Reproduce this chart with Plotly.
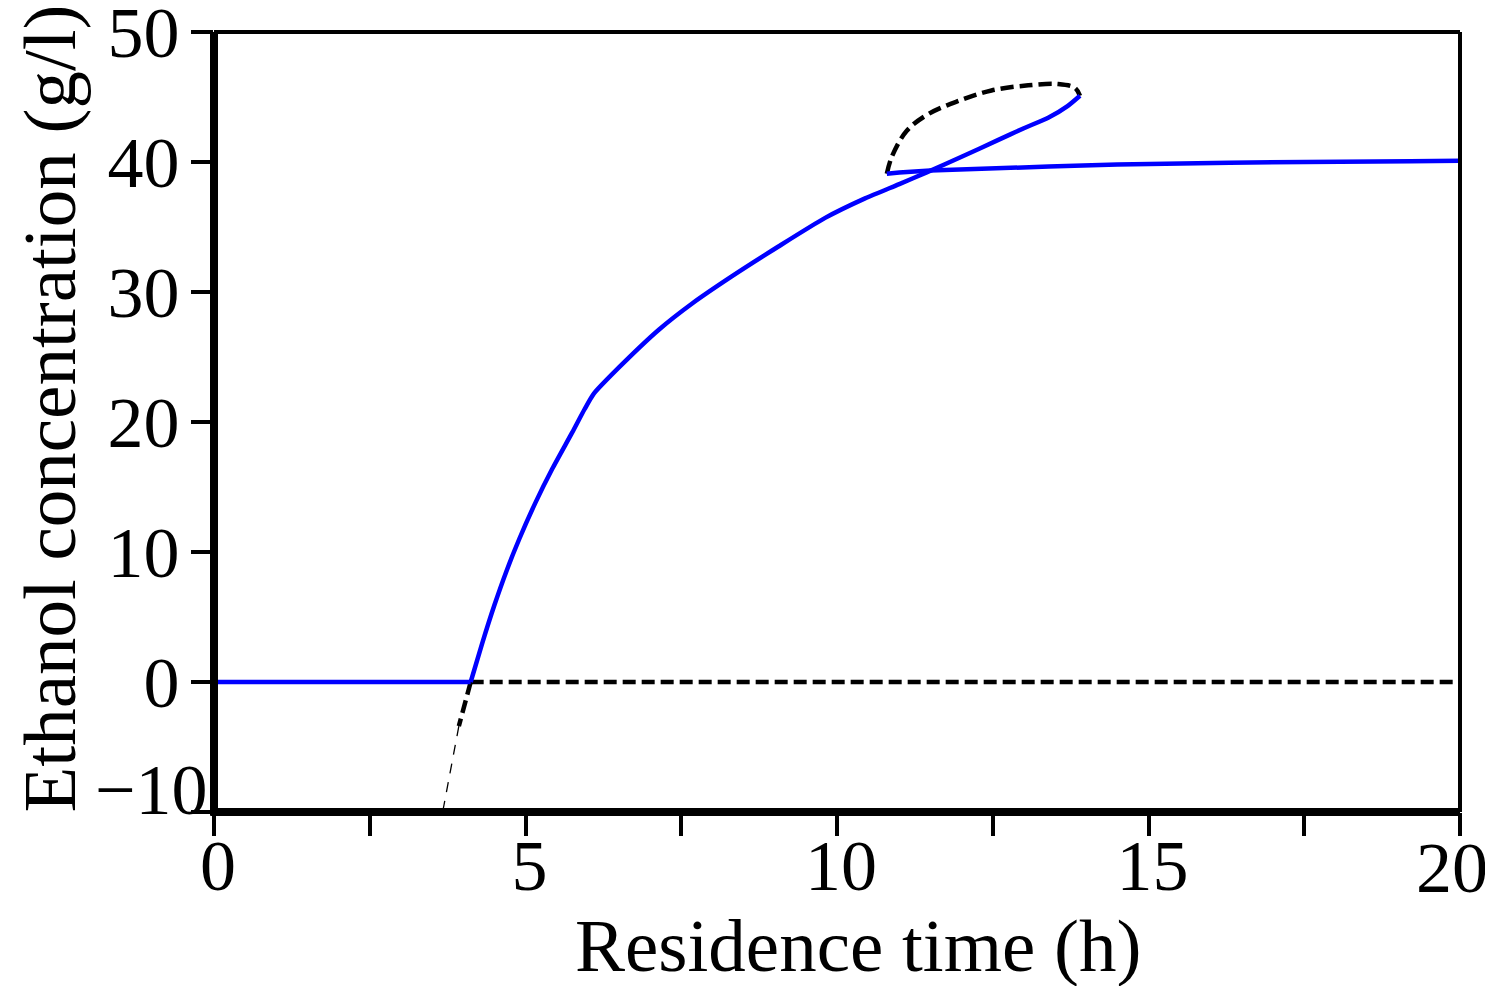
import plotly.graph_objects as go

# ---- data ----
# stable (solid blue) branches
blue_wash_x = [0, 4.12]
blue_wash_y = [0, 0]

blue_rise_x = [4.12, 4.3, 4.5, 4.7, 4.9, 5.16, 5.43, 5.75, 5.95, 6.1, 6.5,
               7.14, 7.67, 8.31, 9.06, 9.81, 10.45, 11.0, 11.44, 12.0, 12.59, 13.0, 13.39, 13.7, 13.9]
blue_rise_y = [0.0, 2.9, 5.9, 8.6, 11.0, 13.8, 16.4, 19.2, 21.0, 22.2, 24.2,
               27.1, 29.1, 31.2, 33.5, 35.7, 37.2, 38.3, 39.2, 40.4, 41.7, 42.6, 43.4, 44.3, 45.1]

blue_upper_x = [10.8, 11.0, 11.5, 12.0, 12.6, 13.4, 14.5, 16.3, 19.2, 20.0]
blue_upper_y = [39.1, 39.2, 39.35, 39.45, 39.55, 39.65, 39.8, 39.95, 40.05, 40.1]

# unstable (dashed black) branches
black_zero_x = [4.12, 20.0]
black_zero_y = [0, 0]

black_loop_x = [10.8, 10.88, 11.12, 11.47, 11.95, 12.48, 13.07, 13.55, 13.82, 13.9]
black_loop_y = [39.1, 40.4, 42.4, 43.7, 44.7, 45.5, 45.9, 46.0, 45.7, 45.1]

black_neg_x = [4.12, 4.03, 3.93]
black_neg_y = [0.0, -1.7, -3.4]

thin_neg_x = [3.93, 3.90, 3.80, 3.69, 3.67]
thin_neg_y = [-3.4, -4.2, -6.8, -9.5, -10.0]

x_tickvals = [0, 2.5, 5, 7.5, 10, 12.5, 15, 17.5, 20]
x_ticktext = ["0", "", "5", "", "10", "", "15", "", ""]   # "20" placed separately (shifted left)
y_tickvals = [-10, 0, 10, 20, 30, 40, 50]
y_ticktext = ["", "0", "10", "20", "30", "40", "50"]      # "−10" placed separately

x_title = "Residence time (h)"
y_title = "Ethanol concentration (g/l)"

FONT = "Liberation Serif"
TICK = 72
TITLE = 75

fig = go.Figure()

blue = dict(color="#0000ff", width=4.5)
dash_black = dict(color="black", width=4.5, dash="13px,6px")

fig.add_trace(go.Scatter(x=black_zero_x, y=black_zero_y, mode="lines", line=dash_black, hoverinfo="skip"))
fig.add_trace(go.Scatter(x=black_loop_x, y=black_loop_y, mode="lines", line=dash_black,
                         line_shape="spline", hoverinfo="skip"))
fig.add_trace(go.Scatter(x=black_neg_x, y=black_neg_y, mode="lines", line=dash_black, hoverinfo="skip"))
fig.add_trace(go.Scatter(x=thin_neg_x, y=thin_neg_y, mode="lines",
                         line=dict(color="black", width=1.3, dash="10px,9px"), hoverinfo="skip"))
fig.add_trace(go.Scatter(x=blue_wash_x, y=blue_wash_y, mode="lines", line=blue))
fig.add_trace(go.Scatter(x=blue_rise_x, y=blue_rise_y, mode="lines", line=blue,
                         line_shape="spline", line_smoothing=0.6))
fig.add_trace(go.Scatter(x=blue_upper_x, y=blue_upper_y, mode="lines", line=blue))

# the page body has an 8px margin, so the margins below are offset by 8px
fig.update_layout(
    width=1493, height=986,
    margin=dict(l=206, r=41, t=24, b=182, autoexpand=False),
    paper_bgcolor="white", plot_bgcolor="white",
    showlegend=False,
    font=dict(family=FONT, color="black", size=TICK),
)

fig.update_xaxes(
    range=[0, 20], tickvals=x_tickvals, ticktext=x_ticktext,
    ticks="outside", ticklen=23, tickwidth=4, tickcolor="black",
    showgrid=False, zeroline=False, showline=False, automargin=False,
    ticklabeloverflow="allow", ticklabelstandoff=-32, ticklabelshift=4,
    tickfont=dict(family=FONT, size=TICK, color="black"),
)
fig.update_yaxes(
    range=[-10, 50], tickvals=y_tickvals, ticktext=y_ticktext,
    ticks="outside", ticklen=22, tickwidth=4, tickcolor="black",
    showgrid=False, zeroline=False, showline=False, automargin=False,
    ticklabeloverflow="allow", ticklabelstandoff=-3,
    tickfont=dict(family=FONT, size=TICK, color="black"),
)

# frame: thick left/bottom, thin top/right
fig.add_shape(type="line", xref="paper", yref="paper", x0=0, x1=0, y0=-0.004, y1=1.0, line=dict(color="black", width=8))
fig.add_shape(type="line", xref="paper", yref="paper", x0=-0.003, x1=1.0, y0=0, y1=0, line=dict(color="black", width=8))
fig.add_shape(type="line", xref="paper", yref="paper", x0=0, x1=1.0, y0=1, y1=1, line=dict(color="black", width=4))
fig.add_shape(type="line", xref="paper", yref="paper", x0=1, x1=1, y0=0, y1=1.0, line=dict(color="black", width=4))

# the "−10" and "20" labels, drawn where the reference puts them
fig.add_annotation(text="\u221210", xref="paper", yref="y", x=-0.003, y=-8.3,
                   xanchor="right", yanchor="middle", showarrow=False,
                   font=dict(family=FONT, size=TICK, color="black"))
fig.add_annotation(text="20", xref="paper", yref="paper", x=0.9932, y=-0.0722,
                   xanchor="center", yanchor="middle", showarrow=False,
                   font=dict(family=FONT, size=TICK, color="black"))

# axis titles
fig.add_annotation(text=x_title, xref="paper", yref="paper", x=0.5169, y=-0.1714,
                   xanchor="center", yanchor="middle", showarrow=False,
                   font=dict(family=FONT, size=TITLE, color="black"))
fig.add_annotation(text=y_title, xref="paper", yref="paper", x=-0.132, y=0.5167,
                   xanchor="center", yanchor="middle", showarrow=False, textangle=-90,
                   font=dict(family=FONT, size=TITLE, color="black"))

fig.write_html("out.html")
